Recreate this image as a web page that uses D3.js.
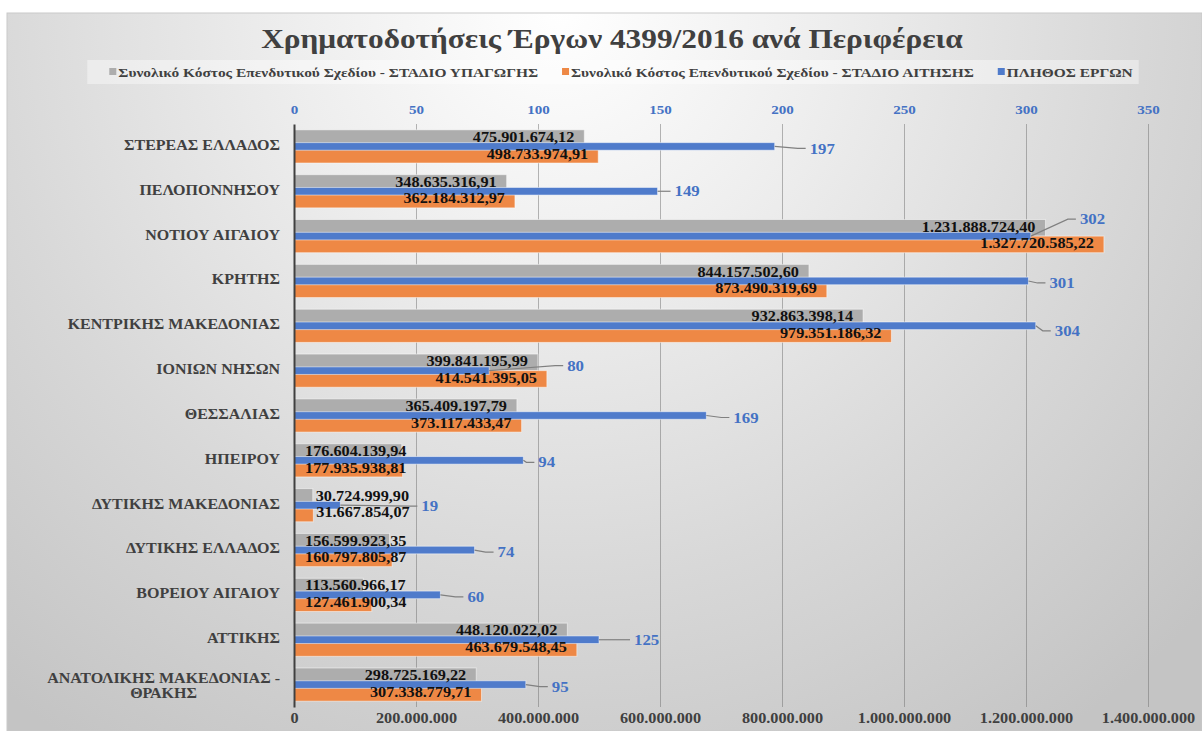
<!DOCTYPE html>
<html>
<head>
<meta charset="utf-8">
<script src="https://cdn.jsdelivr.net/npm/d3@7"></script>
<style>
  body { margin: 0; background: #fff; }
  svg { display: block; font-family: "Liberation Serif", "Times New Roman", serif; font-weight: bold; }
</style>
</head>
<body>
<svg width="1202" height="731"></svg>
<script>
const title = "Χρηματοδοτήσεις Έργων 4399/2016 ανά Περιφέρεια";
const categories = [
  "ΣΤΕΡΕΑΣ ΕΛΛΑΔΟΣ", "ΠΕΛΟΠΟΝΝΗΣΟΥ", "ΝΟΤΙΟΥ ΑΙΓΑΙΟΥ", "ΚΡΗΤΗΣ",
  "ΚΕΝΤΡΙΚΗΣ ΜΑΚΕΔΟΝΙΑΣ", "ΙΟΝΙΩΝ ΝΗΣΩΝ", "ΘΕΣΣΑΛΙΑΣ", "ΗΠΕΙΡΟΥ",
  "ΔΥΤΙΚΗΣ ΜΑΚΕΔΟΝΙΑΣ", "ΔΥΤΙΚΗΣ ΕΛΛΑΔΟΣ", "ΒΟΡΕΙΟΥ ΑΙΓΑΙΟΥ", "ΑΤΤΙΚΗΣ",
  "ΑΝΑΤΟΛΙΚΗΣ ΜΑΚΕΔΟΝΙΑΣ - ΘΡΑΚΗΣ"
];
const seriesNames = [
  "Συνολικό Κόστος Επενδυτικού Σχεδίου - ΣΤΑΔΙΟ ΥΠΑΓΩΓΗΣ",
  "Συνολικό Κόστος Επενδυτικού Σχεδίου - ΣΤΑΔΙΟ ΑΙΤΗΣΗΣ",
  "ΠΛΗΘΟΣ ΕΡΓΩΝ"
];
const costApproval = [
  475901674.12, 348635316.91, 1231888724.40, 844157502.60, 932863398.14,
  399841195.99, 365409197.79, 176604139.94, 30724999.90, 156599923.35,
  113560966.17, 448120022.02, 298725169.22
];
const costApplication = [
  498733974.91, 362184312.97, 1327720585.22, 873490319.69, 979351186.32,
  414541395.05, 373117433.47, 177935938.81, 31667854.07, 160797805.87,
  127461900.34, 463679548.45, 307338779.71
];
const projectCount = [197, 149, 302, 301, 304, 80, 169, 94, 19, 74, 60, 125, 95];
const costTicks = [0, 2e8, 4e8, 6e8, 8e8, 1e9, 1.2e9, 1.4e9];
const countTicks = [0, 50, 100, 150, 200, 250, 300, 350];

// count labels were dragged by hand in the original: [dx from bar end, dy]
const countLabelShift = [[35,2],[17,0],[49,-17],[21,2],[19,5],[78,-5],[27,2],[15,2],[81,1],[23,2],[27,2],[35,0],[26,2]];

const colors = ["#adadad", "#ee8845", "#4f7bcb"];
const SX = 1.16; // the source picture is stretched sideways
const gr = d3.formatLocale({decimal: ",", thousands: ".", grouping: [3], currency: ["", "€"]});
const fmtValue = gr.format(",.2f");
const fmtTick = gr.format(",.0f");

const svg = d3.select("svg");
const plotTop = 124, plotBottom = 707;

const x = d3.scaleLinear().domain([0, 1.4e9]).range([294, 1148]);
const x2 = d3.scaleLinear().domain([0, 350]).range([294, 1148]);
const y = d3.scaleBand().domain(categories).range([plotTop, plotBottom]).paddingInner(0.26).paddingOuter(0.13);
const bw = y.bandwidth();

// background
const grad = svg.append("defs").append("radialGradient")
  .attr("id", "bg").attr("gradientUnits", "userSpaceOnUse")
  .attr("cx", 560).attr("cy", 10).attr("r", 880);
[[0, "#ffffff"], [0.3, "#eeeeee"], [0.65, "#d8d8d8"], [1, "#c4c4c4"]].forEach(([o, c]) =>
  grad.append("stop").attr("offset", o).attr("stop-color", c));
svg.append("rect").attr("x", 7).attr("y", 13).attr("width", 1195).attr("height", 718)
  .attr("fill", "url(#bg)").attr("stroke", "#c9c9c9");

// title
svg.append("text")
  .attr("transform", `translate(612,48) scale(${SX},1)`)
  .attr("text-anchor", "middle").attr("font-size", 27).attr("fill", "#404040")
  .text(title);

// legend
const legend = svg.append("g");
const legendBg = legend.append("rect");
let lx = 0;
seriesNames.forEach((name, i) => {
  legend.append("rect").attr("x", lx).attr("y", -4).attr("width", 7).attr("height", 7).attr("fill", colors[i]);
  const t = legend.append("text")
    .attr("transform", `translate(${lx + 9},4.5) scale(${SX},1)`)
    .attr("font-size", 13.3).attr("fill", "#404040").text(name);
  lx += 9 + t.node().getComputedTextLength() * SX + 24;
});
const legendW = lx - 24;
legendBg.attr("x", -22).attr("y", -12).attr("width", legendW + 28).attr("height", 24)
  .attr("fill", "#fff").attr("opacity", 0.4);
legend.attr("transform", `translate(${621 - legendW / 2},72)`);

// gridlines
svg.append("g").attr("transform", `translate(0,${plotBottom})`)
  .call(d3.axisBottom(x).tickValues(costTicks.slice(1)).tickSize(-(plotBottom - plotTop)).tickFormat(""))
  .call(g => g.select(".domain").remove())
  .selectAll("line").attr("stroke", "#707070").attr("stroke-opacity", 0.5);

// bottom axis
svg.append("g").attr("transform", `translate(0,${plotBottom + 4})`)
  .call(d3.axisBottom(x).tickValues(costTicks).tickFormat(fmtTick).tickSize(0).tickPadding(2))
  .call(g => g.select(".domain").remove())
  .attr("font-family", null).attr("font-size", null)
  .selectAll("text").attr("font-size", 14).attr("fill", "#404040")
  .attr("transform", `scale(${SX},1)`);

// top axis (count)
svg.append("g").attr("transform", `translate(0,${plotTop - 10})`)
  .call(d3.axisTop(x2).tickValues(countTicks).tickSize(0).tickPadding(0))
  .call(g => g.select(".domain").remove())
  .attr("font-family", null).attr("font-size", null)
  .selectAll("text").attr("font-size", 13).attr("fill", "#4472c4")
  .attr("transform", `scale(${SX},1)`);

// bars
const groups = svg.append("g").selectAll("g").data(categories).join("g")
  .attr("transform", d => `translate(0,${y(d)})`);

groups.append("rect").attr("x", x(0)).attr("y", 0)
  .attr("width", (d, i) => x(costApproval[i]) - x(0)).attr("height", bw / 2)
  .attr("fill", colors[0]).attr("stroke", "#fff").attr("stroke-opacity", 0.5);
groups.append("rect").attr("x", x(0)).attr("y", bw / 2)
  .attr("width", (d, i) => x(costApplication[i]) - x(0)).attr("height", bw / 2)
  .attr("fill", colors[1]).attr("stroke", "#fff").attr("stroke-opacity", 0.5);
groups.append("rect").attr("x", x2(0)).attr("y", bw / 2 - 3.8)
  .attr("width", (d, i) => x2(projectCount[i]) - x2(0)).attr("height", 7.6)
  .attr("fill", colors[2]).attr("stroke", "#fff").attr("stroke-opacity", 0.5);

// value labels on the cost bars
function costLabel(g, v, cy) {
  const t = g.append("text").attr("font-size", 14).attr("fill", "#111").attr("dy", "0.35em").text(fmtValue(v));
  const w = t.node().getComputedTextLength() * SX;
  const end = x(v);
  if (end - x(0) < 30) {
    t.attr("transform", `translate(${end + 3},${cy}) scale(${SX},1)`);
  } else {
    t.attr("text-anchor", "end")
      .attr("transform", `translate(${Math.max(end - 10, x(0) + 11 + w)},${cy}) scale(${SX},1)`);
  }
}
groups.each(function(d, i) {
  const g = d3.select(this);
  costLabel(g, costApproval[i], bw / 4 - 1);
  costLabel(g, costApplication[i], bw * 3 / 4 - 1);

  const [dx, dy] = countLabelShift[i];
  const bx = x2(projectCount[i]), by = bw / 2;
  const lxp = bx + dx, ly = by + dy;
  g.append("polyline")
    .attr("points", [[bx, by], [lxp - 12, ly], [lxp - 4, ly]].map(p => p.join(",")).join(" "))
    .attr("fill", "none").attr("stroke", "#808080").attr("stroke-width", 1.2);
  g.append("text").attr("font-size", 14.5).attr("fill", "#4472c4").attr("dy", "0.35em")
    .attr("transform", `translate(${lxp},${ly}) scale(${SX},1)`)
    .text(projectCount[i]);
});

// category axis
svg.append("g").attr("transform", `translate(${x(0)},0)`)
  .call(d3.axisLeft(y).tickSize(0).tickSizeOuter(0))
  .attr("font-family", null).attr("font-size", null)
  .call(g => g.select(".domain").attr("stroke", "#404040").attr("stroke-width", 2))
  .selectAll("text")
  .attr("font-size", 13.8).attr("fill", "#404040").attr("x", 0)
  .each(function(d) {
    const t = d3.select(this);
    const parts = d.split(" - ");
    if (parts.length === 1) {
      t.attr("transform", `translate(-14,-1) scale(${SX},1)`);
      return;
    }
    t.text(null).attr("dy", null).attr("text-anchor", "middle");
    const l1 = t.append("tspan").attr("x", 0).attr("dy", "-0.1em").text(parts[0] + " -");
    t.append("tspan").attr("x", 0).attr("dy", "1.05em").text(parts[1]);
    const w1 = l1.node().getComputedTextLength() * SX;
    t.attr("transform", `translate(${-14 - w1 / 2},0) scale(${SX},1)`);
  });
</script>
</body>
</html>
